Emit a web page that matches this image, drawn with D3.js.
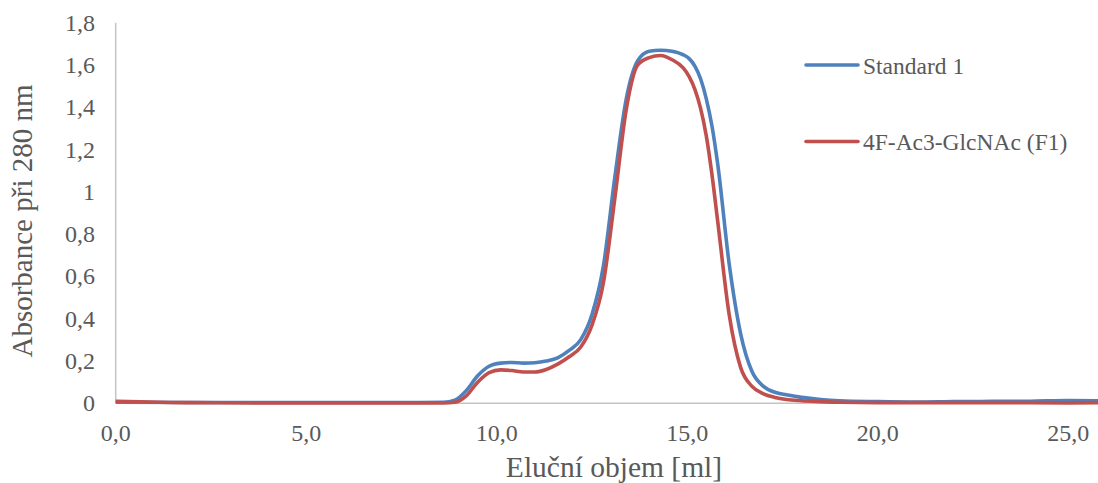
<!DOCTYPE html>
<html>
<head>
<meta charset="utf-8">
<script src="https://cdn.jsdelivr.net/npm/d3@7"></script>
<style>
  body { margin: 0; background: #fff; }
  text { font-family: "Liberation Serif", "Times New Roman", serif; fill: #595959; }
</style>
</head>
<body>
<svg id="chart" width="1098" height="483"></svg>
<script>
// elution volume [ml]
var volume = [0, 2, 4, 6, 8, 8.6, 8.9, 9.2, 9.5, 9.8, 10.1, 10.4, 10.7, 11.0, 11.3, 11.6, 11.9,
	12.2, 12.5, 12.8, 13.1, 13.4, 13.7, 14.0, 14.3, 14.6, 14.9, 15.05, 15.2, 15.35, 15.5, 15.65,
	15.8, 16.1, 16.4, 16.7, 17.0, 17.3, 17.6, 18.0, 18.5, 19, 20, 21, 22, 23, 24, 25, 25.8];

var standard1 = [0.005, 0.004, 0.004, 0.004, 0.004, 0.005, 0.015, 0.06, 0.13, 0.175, 0.19, 0.193,
	0.19, 0.192, 0.20, 0.215, 0.25, 0.30, 0.42, 0.65, 1.07, 1.44, 1.62, 1.665, 1.67, 1.665, 1.648,
	1.63, 1.595, 1.535, 1.44, 1.31, 1.13, 0.66, 0.33, 0.15, 0.08, 0.052, 0.04, 0.028, 0.018, 0.012,
	0.008, 0.006, 0.008, 0.009, 0.010, 0.013, 0.012];

var f1 = [0.01, 0.003, 0.002, 0.002, 0.002, 0.002, 0.005, 0.035, 0.10, 0.145, 0.158, 0.155,
	0.148, 0.148, 0.16, 0.185, 0.22, 0.265, 0.37, 0.57, 0.97, 1.39, 1.60, 1.635, 1.645, 1.625,
	1.585, 1.545, 1.485, 1.395, 1.265, 1.08, 0.86, 0.42, 0.17, 0.08, 0.045, 0.028, 0.018, 0.012, 0.008,
	0.005, 0.003, 0.003, 0.003, 0.003, 0.003, 0.002, 0.003];

var seriesNames = ["Standard 1", "4F-Ac3-GlcNAc (F1)"];
var seriesColors = ["#4f81bd", "#c0504d"];
var xTicks = [0, 5, 10, 15, 20, 25];
var yTicks = [0, 0.2, 0.4, 0.6, 0.8, 1, 1.2, 1.4, 1.6, 1.8];

var svg = d3.select("#chart");

var plotLeft = 115.7, plotRight = 1098, plotTop = 22.7, plotBottom = 403.3;

var x = d3.scaleLinear().domain([0, 25.78]).range([plotLeft, plotRight]);
var y = d3.scaleLinear().domain([0, 1.8]).range([plotBottom, plotTop]);

var comma = function(v, digits) { return v.toFixed(digits).replace(".", ","); };

// axes lines
svg.append("line")
	.attr("x1", plotLeft).attr("x2", plotLeft).attr("y1", plotTop).attr("y2", plotBottom)
	.attr("stroke", "#c4c4c4").attr("stroke-width", 1.5);
svg.append("line")
	.attr("x1", plotLeft).attr("x2", plotRight).attr("y1", plotBottom).attr("y2", plotBottom)
	.attr("stroke", "#c4c4c4").attr("stroke-width", 1.5);

// y tick labels
svg.selectAll(".ytick")
	.data(yTicks)
	.enter()
		.append("text")
		.attr("class", "ytick")
		.attr("x", 95)
		.attr("y", function(d) { return y(d) + 8; })
		.attr("text-anchor", "end")
		.style("font-size", "24px")
		.text(function(d) { return d === 0 || d === 1 ? String(d) : comma(d, 1); });

// x tick labels
svg.selectAll(".xtick")
	.data(xTicks)
	.enter()
		.append("text")
		.attr("class", "xtick")
		.attr("x", function(d) { return x(d); })
		.attr("y", 441)
		.attr("text-anchor", "middle")
		.style("font-size", "24px")
		.text(function(d) { return comma(d, 1); });

// axis titles
svg.append("text")
	.attr("x", 614).attr("y", 477)
	.attr("text-anchor", "middle")
	.style("font-size", "29.5px")
	.text("Eluční objem [ml]");
svg.append("text")
	.attr("transform", "translate(32, 221) rotate(-90)")
	.attr("text-anchor", "middle")
	.style("font-size", "29px")
	.text("Absorbance při 280 nm");

// lines
var line = d3.line()
	.x(function(d) { return x(d[0]); })
	.y(function(d) { return y(d[1]); })
	.curve(d3.curveMonotoneX);

[standard1, f1].forEach(function(vals, i) {
	svg.append("path")
		.datum(volume.map(function(v, k) { return [v, vals[k]]; }))
		.attr("fill", "none")
		.attr("stroke", seriesColors[i])
		.attr("stroke-width", 3.6)
		.attr("stroke-linejoin", "round")
		.attr("d", line);
});

// legend
var legendY = [65, 141.5];
seriesNames.forEach(function(name, i) {
	svg.append("line")
		.attr("x1", 806).attr("x2", 858)
		.attr("y1", legendY[i]).attr("y2", legendY[i])
		.attr("stroke", seriesColors[i])
		.attr("stroke-width", 3.6)
		.attr("stroke-linecap", "round");
	svg.append("text")
		.attr("x", 863).attr("y", legendY[i] + 8.5)
		.style("font-size", "23.5px")
		.text(name);
});
</script>
</body>
</html>
